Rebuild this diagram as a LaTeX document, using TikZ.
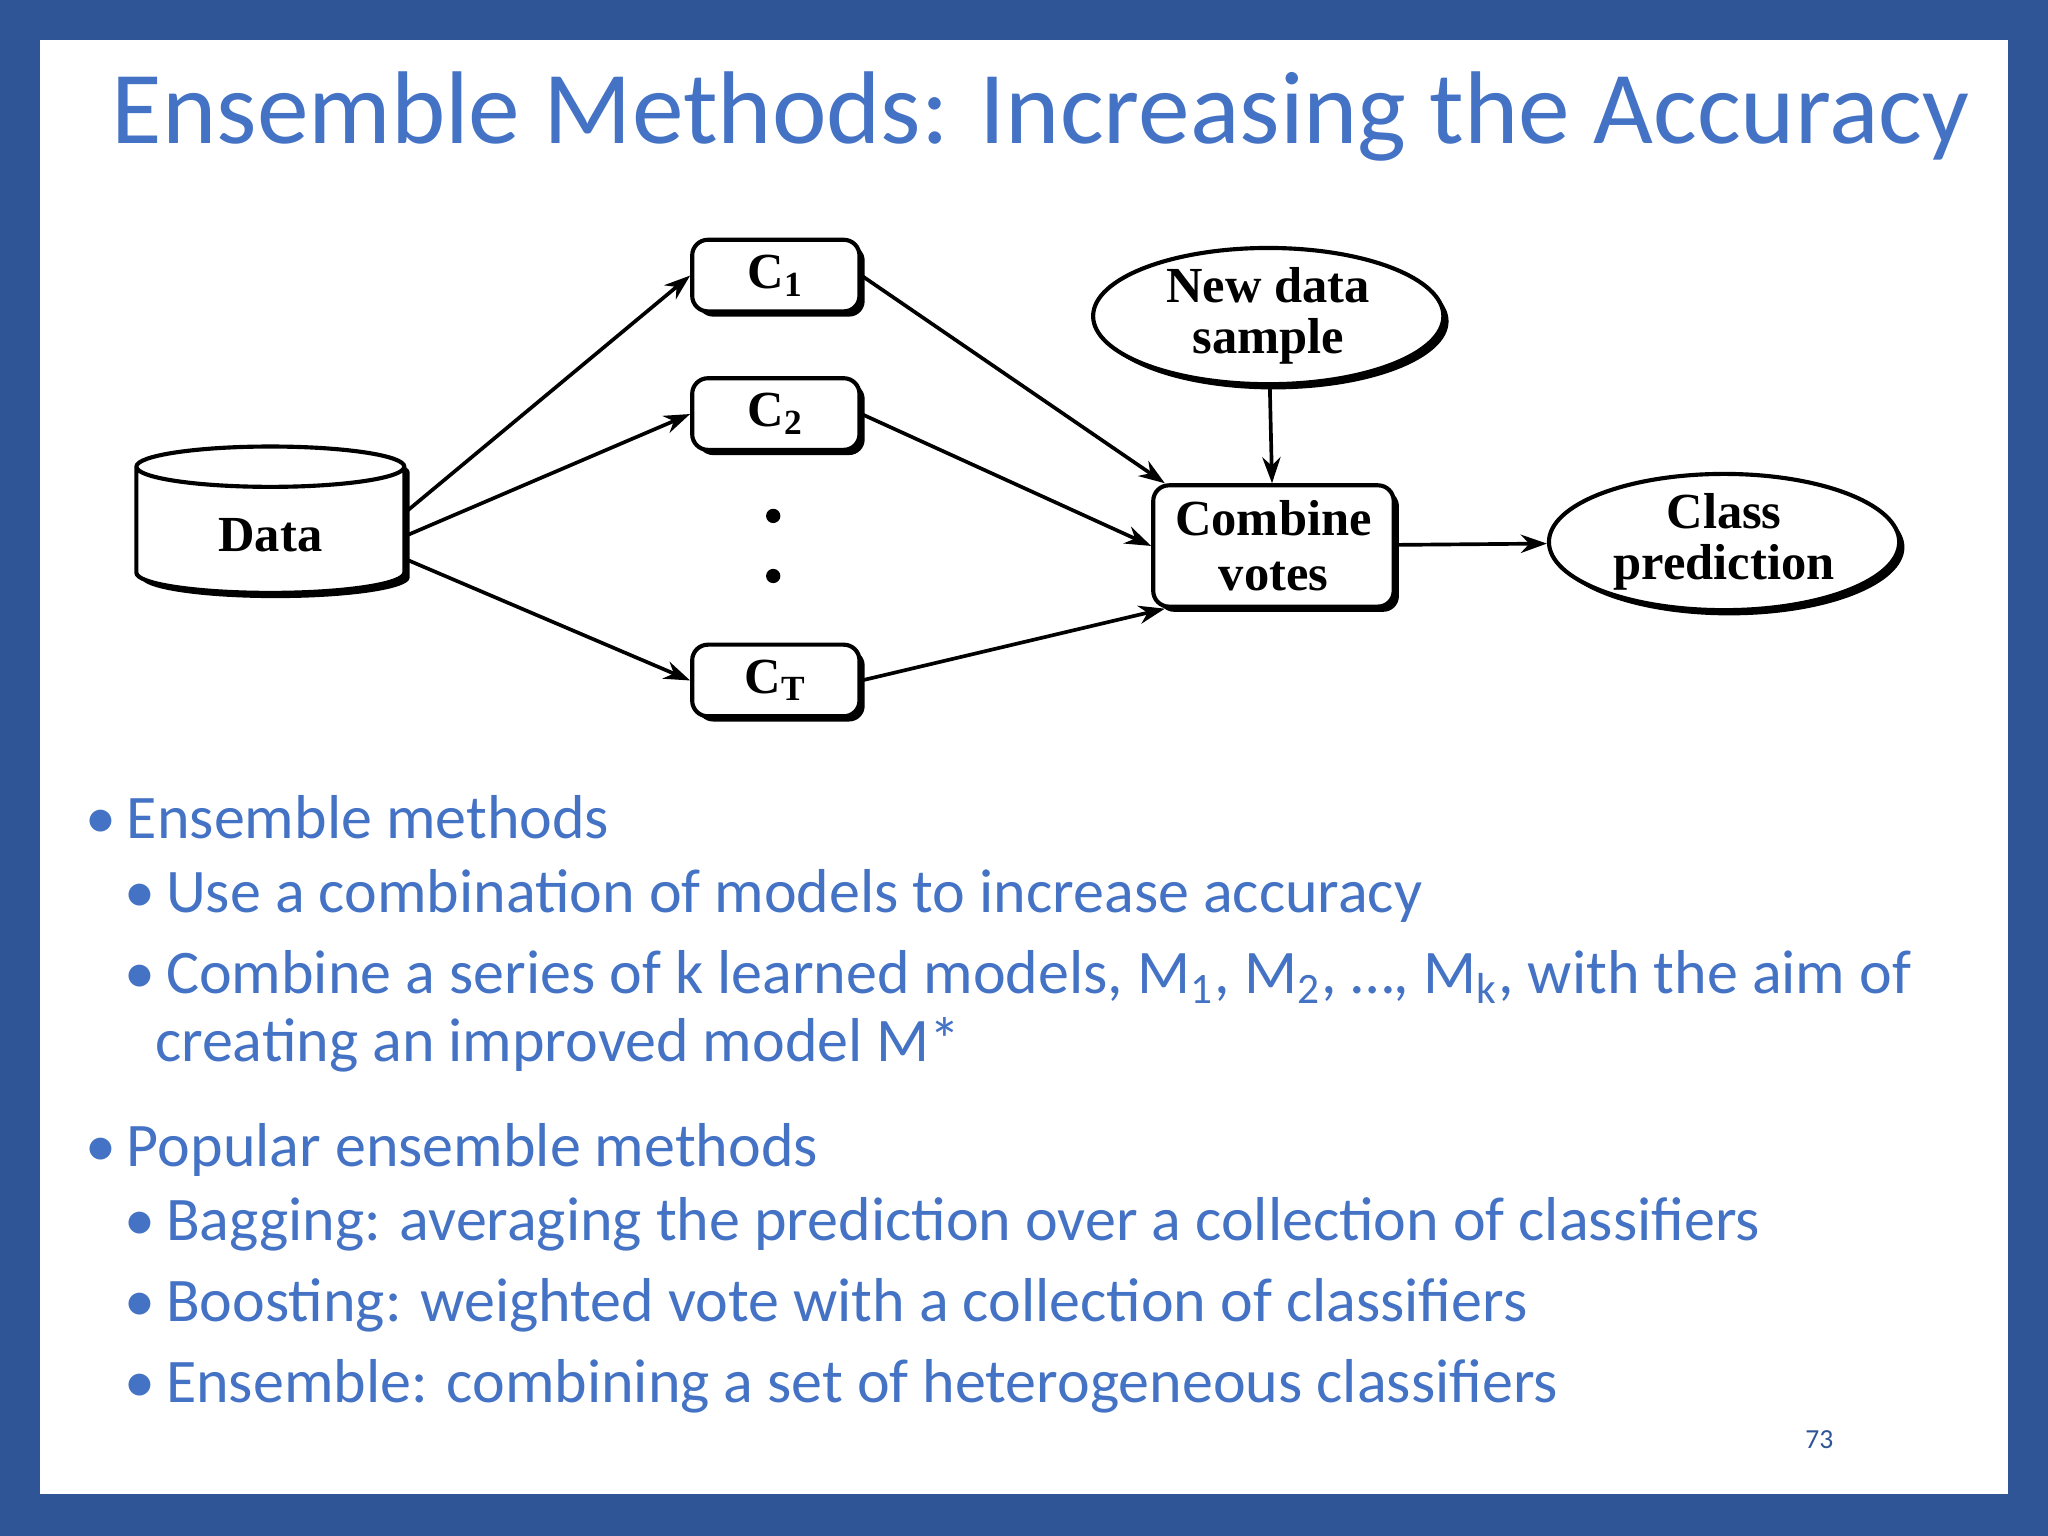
\documentclass[tikz,border=0pt]{standalone}
\usepackage{fontspec}
\setmainfont{Carlito}
\newfontfamily\dserif{Liberation Serif}
\usetikzlibrary{shapes.geometric,arrows.meta,shadows}
\definecolor{frame}{HTML}{2F5597}
\definecolor{tblue}{HTML}{4472C4}
\begin{document}
\begin{tikzpicture}[x=0.01cm,y=-0.01cm,
  sh/.style={draw=black,line width=0.9pt,fill=white,drop shadow={shadow xshift=0.04cm,shadow yshift=-0.04cm,fill=black,opacity=1}},
  cls/.style={sh,rounded corners=0.12cm,minimum width=1.28cm,minimum height=0.52cm,font=\dserif\bfseries\fontsize{11}{11}\selectfont},
  ell/.style={sh,ellipse,minimum width=2.68cm,minimum height=0.93cm,inner sep=0,align=center,font=\dserif\bfseries\fontsize{11}{11}\selectfont},
  arr/.style={-{Stealth[length=0.2cm,width=0.14cm]},line width=0.8pt},
  bl/.style={anchor=base west,text=tblue,font=\fontsize{13.5}{16}\selectfont,inner sep=0}]
\useasboundingbox (0,0) rectangle (1568,1176);
\fill[frame] (0,0) rectangle (1568,1176);
\fill[white] (31,31) rectangle (1537,1144);
\node[anchor=base west,text=tblue,font=\fontsize{22.5}{22.5}\selectfont,inner sep=0] (title) at (85,110) {Ensemble Methods: Increasing the Accuracy};
% diagram
\node[sh,cylinder,shape border rotate=90,aspect=0.3,minimum width=2.05cm,minimum height=1.12cm,font=\dserif\bfseries\fontsize{11}{11}\selectfont] (data) at (207,410) {Data};
\node[cls] (c1) at (594,211) {C\textsubscript{1}};
\node[cls] (c2) at (594,317) {C\textsubscript{2}};
\node[cls] (ct) at (594,521) {C\textsubscript{T}};
\node[circle,fill=black,inner sep=1.1pt] (d1) at (592,395) {};
\node[circle,fill=black,inner sep=1.1pt] (d2) at (592,441) {};
\node[cls,minimum width=1.84cm,minimum height=0.83cm,align=center,font=\dserif\bfseries\fontsize{11}{12}\selectfont] (cv) at (975,418) {Combine\\votes};
\node[ell] (nd) at (971,242) {New data\\sample};
\node[ell] (cp) at (1320,415) {Class\\prediction};
\draw[arr] (data.10) -- (c1.west);
\draw[arr] (data.0) -- (c2.west);
\draw[arr] (data.-10) -- (ct.west);
\draw[arr] (c1.east) -- (cv.150);
\draw[arr] (c2.east) -- (cv.west);
\draw[arr] (ct.east) -- (cv.-150);
\draw[arr] (nd) -- (cv);
\draw[arr] (cv) -- (cp);
% bullets
\node[bl] (b1) at (65,642) {•\,Ensemble methods};
\node[bl] (b2) at (95,699) {•\,Use a combination of models to increase accuracy};
\node[bl] (b3) at (95,761) {•\,Combine a series of k learned models, M\textsubscript{1}, M\textsubscript{2}, …, M\textsubscript{k}, with the aim of};
\node[bl] (b4) at (118,813) {creating an improved model M*};
\node[bl] (b5) at (65,893) {•\,Popular ensemble methods};
\node[bl] (b6) at (95,950) {•\,Bagging: averaging the prediction over a collection of classifiers};
\node[bl] (b7) at (95,1012) {•\,Boosting: weighted vote with a collection of classifiers};
\node[bl] (b8) at (95,1074) {•\,Ensemble: combining a set of heterogeneous classifiers};
\node[anchor=base,text=frame,font=\fontsize{6}{6}\selectfont,inner sep=0] (pg) at (1393,1109) {73};
\end{tikzpicture}
\end{document}
